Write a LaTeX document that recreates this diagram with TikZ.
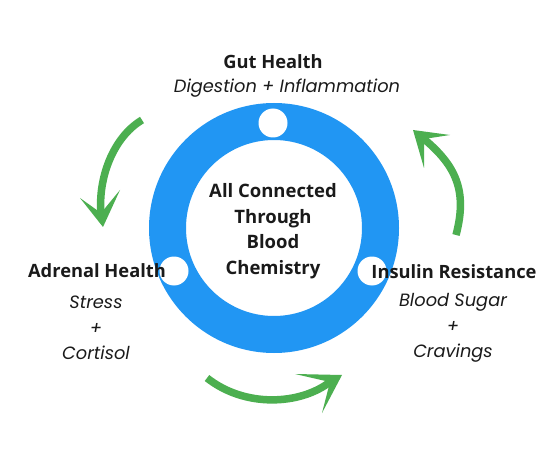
\documentclass[tikz,border=0pt]{standalone}
\usepackage{fontspec}
\setmainfont{Open Sans}
\newfontfamily\subfont{Poppins}
\usetikzlibrary{calc}
\definecolor{ringblue}{HTML}{2196F3}
\definecolor{arrgreen}{HTML}{4CAF50}
\definecolor{ink}{HTML}{1A1A1A}
\begin{document}
\begin{tikzpicture}[x=1pt,y=-1pt,
  title/.style={font=\bfseries\fontsize{18.3}{21}\selectfont, text=ink, inner sep=0pt},
  sub/.style={font=\subfont\itshape\fontsize{17.8}{25.5}\selectfont, text=ink, align=center, inner sep=0pt},
  hub/.style={font=\bfseries\fontsize{18.5}{25.5}\selectfont, text=ink, align=center, inner sep=0pt},
  dot/.style={circle, fill=white, minimum size=29pt, inner sep=0pt},
  shaft/.style={draw=arrgreen, line width=7.5pt},
  head/.style={fill=arrgreen}]
\useasboundingbox (0,0) rectangle (546,457);
\fill[white] (0,0) rectangle (546,457);
% ring
\fill[ringblue, even odd rule] (274,228) circle[radius=125pt] (274,228) circle[radius=88pt];
\node[dot] (dtop) at (273,123) {};
\node[dot] (dleft) at (174,271) {};
\node[dot] (dright) at (372,271) {};
% texts
\node[hub] (hub) at (273,231) {All Connected\\Through\\Blood\\Chemistry};
\node[title] (gut) at (273,62) {Gut Health};
\node[sub] (gutsub) at (287,88) {Digestion + Inflammation};
\node[title] (adr) at (97,271) {Adrenal Health};
\node[sub] (adrsub) at (96,328) {Stress\\+\\Cortisol};
\node[title] (ins) at (454,272) {Insulin Resistance};
\node[sub] (inssub) at (453,328) {Blood Sugar\\+\\Cravings};
% left arrow
\coordinate (lS) at (142,120);
\coordinate (lT) at (103,227);
\coordinate (lC) at (101,213);
\coordinate (lW1) at (80,198);
\coordinate (lW2) at (120,190);
\draw[shaft] (lS) .. controls (112,138) and (98,180) .. (lC);
\fill[head] (lT) -- (lW1) -- (lC) -- (lW2) -- cycle;
% right arrow
\coordinate (rS) at (456,235);
\coordinate (rT) at (413,130);
\coordinate (rC) at (424,139);
\coordinate (rW1) at (450,135);
\coordinate (rW2) at (424,168);
\draw[shaft] (rS) .. controls (468,190) and (455,165) .. (rC);
\fill[head] (rT) -- (rW1) -- (rC) -- (rW2) -- cycle;
% bottom arrow
\coordinate (bS) at (207,378);
\coordinate (bT) at (342,375);
\coordinate (bC) at (330,382);
\coordinate (bW1) at (295,374);
\coordinate (bW2) at (322,413);
\draw[shaft] (bS) .. controls (245,408) and (300,405) .. (bC);
\fill[head] (bT) -- (bW1) -- (bC) -- (bW2) -- cycle;
\end{tikzpicture}
\end{document}
